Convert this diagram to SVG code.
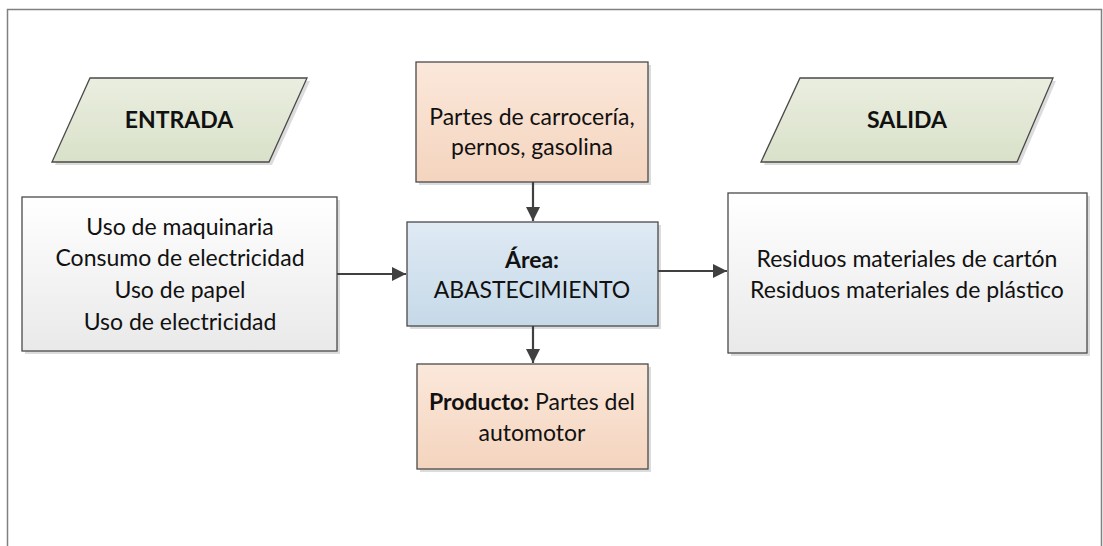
<svg xmlns="http://www.w3.org/2000/svg" width="1103" height="546" viewBox="0 0 1103 546">
<style>
text{font-family:Lato,"Liberation Sans",sans-serif;font-size:23px;fill:#111;text-anchor:middle}
.b{font-weight:bold}
.shape{stroke:#4a4a4a;stroke-width:1.3}
.shadow{fill:#dcdcdc}
.conn{stroke:#404040;stroke-width:2.2;fill:none}
</style>
<defs>
<linearGradient id="gGreen" x1="0" y1="0" x2="0" y2="1"><stop offset="0" stop-color="#eaeee0"/><stop offset="1" stop-color="#d9e1c9"/></linearGradient>
<linearGradient id="gOrange" x1="0" y1="0" x2="0" y2="1"><stop offset="0" stop-color="#fbe8db"/><stop offset="1" stop-color="#f4d4be"/></linearGradient>
<linearGradient id="gBlue" x1="0" y1="0" x2="0" y2="1"><stop offset="0" stop-color="#dfeaf4"/><stop offset="1" stop-color="#c6d9e8"/></linearGradient>
<linearGradient id="gGray" x1="0" y1="0" x2="0" y2="1"><stop offset="0" stop-color="#ffffff"/><stop offset="1" stop-color="#e9e9e9"/></linearGradient>
<marker id="arr" viewBox="0 0 14 14" refX="14" refY="7" markerWidth="14" markerHeight="14" markerUnits="userSpaceOnUse" orient="auto"><path d="M0,0 L14,7 L0,14 z" fill="#404040"/></marker>
</defs>
<rect x="0" y="0" width="1103" height="546" fill="#fff"/>
<path d="M7.5,546 V9.5 H1101.5 V546" fill="none" stroke="#808080" stroke-width="1.5"/>

<g id="entrada">
<polygon class="shadow" points="93,81 310,81 272,165 55,165"/>
<polygon class="shape" fill="url(#gGreen)" points="90,78 307,78 269,162 52,162"/>
<text class="b" x="179" y="128">ENTRADA</text>
</g>

<g id="salida">
<polygon class="shadow" points="803,81 1056,81 1020,165 764,165"/>
<polygon class="shape" fill="url(#gGreen)" points="800,78 1053,78 1017,162 761,162"/>
<text class="b" x="907" y="128">SALIDA</text>
</g>

<g id="insumos">
<rect class="shadow" x="25" y="200" width="315" height="154"/>
<rect class="shape" fill="url(#gGray)" x="22" y="197" width="315" height="154"/>
<text x="180" y="235">Uso de maquinaria</text>
<text x="180" y="266">Consumo de electricidad</text>
<text x="180" y="298">Uso de papel</text>
<text x="180" y="330">Uso de electricidad</text>
</g>

<g id="materia">
<rect class="shadow" x="419" y="65" width="232" height="120"/>
<rect class="shape" fill="url(#gOrange)" x="416" y="62" width="232" height="120"/>
<text x="532" y="125">Partes de carrocería,</text>
<text x="532" y="155">pernos, gasolina</text>
</g>

<g id="area">
<rect class="shadow" x="410" y="225" width="251" height="104"/>
<rect class="shape" fill="url(#gBlue)" x="407" y="222" width="251" height="104"/>
<text class="b" x="532" y="268">Área:</text>
<text x="532" y="298">ABASTECIMIENTO</text>
</g>

<g id="residuos">
<rect class="shadow" x="731" y="196" width="359" height="160"/>
<rect class="shape" fill="url(#gGray)" x="728" y="193" width="359" height="160"/>
<text x="907" y="267">Residuos materiales de cartón</text>
<text x="907" y="298">Residuos materiales de plástico</text>
</g>

<g id="producto">
<rect class="shadow" x="420" y="367" width="231" height="105"/>
<rect class="shape" fill="url(#gOrange)" x="417" y="364" width="231" height="105"/>
<text x="532" y="410"><tspan class="b">Producto:</tspan> Partes del</text>
<text x="532" y="441">automotor</text>
</g>

<g id="connectors">
<line class="conn" x1="337" y1="274" x2="406" y2="274" marker-end="url(#arr)"/>
<line class="conn" x1="533" y1="182" x2="533" y2="221" marker-end="url(#arr)"/>
<line class="conn" x1="658" y1="271" x2="727" y2="271" marker-end="url(#arr)"/>
<line class="conn" x1="533" y1="326" x2="533" y2="363" marker-end="url(#arr)"/>
</g>
</svg>
